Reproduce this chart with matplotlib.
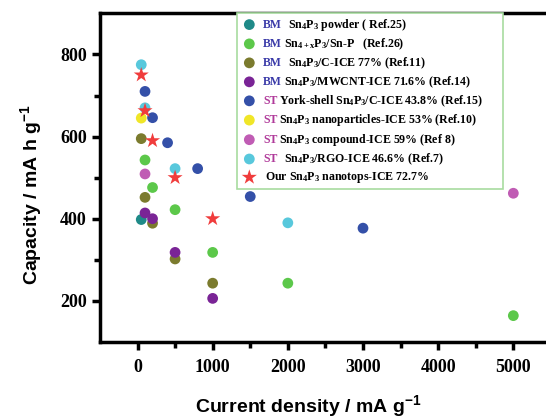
import matplotlib
matplotlib.use('Agg')
import matplotlib.pyplot as plt
from matplotlib.transforms import IdentityTransform, Affine2D

plt.rcParams['mathtext.default'] = 'regular'

# data (current density mA/g, capacity mAh/g)
powder_x = [50]
powder_y = [398]
snp_x = [100, 200, 500, 1000, 2000, 5000]
snp_y = [543, 476, 422, 318, 243, 164]
c_x = [50, 100, 200, 500, 1000]
c_y = [595, 452, 389, 302, 243]
mwcnt_x = [100, 200, 500, 1000]
mwcnt_y = [414, 400, 318, 206]
york_x = [100, 200, 400, 800, 1500, 3000]
york_y = [710, 646, 585, 522, 454, 377]
nano_x = [50]
nano_y = [645]
comp_x = [100, 5000]
comp_y = [509, 462]
rgo_x = [50, 100, 500, 2000]
rgo_y = [775, 670, 522, 390]
our_x = [50, 100, 200, 500, 1000]
our_y = [750, 663, 590, 500, 400]

prefixes = ['BM', 'BM', 'BM', 'BM', 'ST', 'ST', 'ST', 'ST', '']
bodies = ['Sn$_4$P$_3$ powder ( Ref.25)',
          'Sn$_{4+x}$P$_3$/Sn-P   (Ref.26)',
          'Sn$_4$P$_3$/C-ICE 77% (Ref.11)',
          'Sn$_4$P$_3$/MWCNT-ICE 71.6% (Ref.14)',
          'York-shell Sn$_4$P$_3$/C-ICE 43.8% (Ref.15)',
          'Sn$_4$P$_3$ nanoparticles-ICE 53% (Ref.10)',
          'Sn$_4$P$_3$ compound-ICE 59% (Ref 8)',
          'Sn$_4$P$_3$/RGO-ICE 46.6% (Ref.7)',
          'Our Sn$_4$P$_3$ nanotops-ICE 72.7%']
gaps = [2, 0.5, 2, 0.5, 0.5, 0.5, 0.5, 2, 0]   # spaces between tag and label

fig = plt.figure(figsize=(5.46, 4.18), dpi=100)
ax = fig.add_axes([0.183, 0.182, 0.826, 0.786])

series = [(powder_x, powder_y, '#1f8a88'),
          (snp_x, snp_y, '#5cc84a'),
          (c_x, c_y, '#7b7b2e'),
          (mwcnt_x, mwcnt_y, '#7a2496'),
          (york_x, york_y, '#3450a8'),
          (nano_x, nano_y, '#f0e628'),
          (comp_x, comp_y, '#c05cb4'),
          (rgo_x, rgo_y, '#58c8dc')]
for (x, y, col), body in zip(series, bodies):
    ax.scatter(x, y, s=60, color=col, edgecolors='none', zorder=3,
               label=body)
ax.scatter(our_x, our_y, s=130, marker='*', color='#f03c3c',
           edgecolors='none', zorder=4, label=bodies[-1])

ax.set_xlim(-500, 5500)
ax.set_ylim(100, 900)
ax.set_xticks([0, 1000, 2000, 3000, 4000, 5000])
ax.set_xticks([500, 1500, 2500, 3500, 4500], minor=True)
ax.set_yticks([200, 400, 600, 800])
ax.set_yticks([300, 500, 700], minor=True)

for s in ax.spines.values():
    s.set_linewidth(2.5)
ax.tick_params(which='major', direction='out', length=6, width=2.5)
ax.tick_params(which='minor', direction='out', length=4, width=2.5)
ax.tick_params(axis='x', pad=6)
for lab in ax.get_xticklabels() + ax.get_yticklabels():
    lab.set_family('Liberation Serif')
    lab.set_weight('bold')
    lab.set_size(13)

ax.set_xlabel('Current density / mA g$^{-1}$', family='Liberation Sans',
              weight='bold', size=14)
ax.xaxis.set_label_coords(0.463, -0.155)
ax.set_ylabel('Capacity / mA h g$^{-1}$', family='Liberation Sans',
              weight='bold', size=14)
ax.yaxis.set_label_coords(-0.125, 0.45)

leg = ax.legend(loc='upper left', bbox_to_anchor=(0.304, 0.4, 0.59, 0.6),
                mode='expand', borderaxespad=0, fancybox=False,
                framealpha=1, edgecolor='#a8dca0', scatterpoints=1,
                handlelength=1.5, handletextpad=0.42, labelspacing=0.3,
                borderpad=0.28,
                prop={'family': 'Liberation Serif', 'weight': 'bold',
                      'size': 8.6})
leg.get_frame().set_linewidth(1.2)

# coloured BM / ST tags in front of the legend labels
fig.canvas.draw()
renderer = fig.canvas.get_renderer()
tag_col = {'BM': '#3a3aa8', 'ST': '#b03a9a'}
tag_size = 8.5
space_px = 0.25 * tag_size * fig.dpi / 72
for t, pre, g in zip(leg.get_texts(), prefixes, gaps):
    px, py = t.get_transform().transform(t.get_position())
    shift = 2
    if pre:
        tag = fig.text(px, py, pre, transform=IdentityTransform(),
                       ha='left', va='baseline', color=tag_col[pre],
                       family='Liberation Serif', weight='bold',
                       size=tag_size, zorder=10)
        shift = tag.get_window_extent(renderer).width + g * space_px
    t.set_transform(t.get_transform() + Affine2D().translate(shift, 0))

fig.savefig('out.png', dpi=100)
